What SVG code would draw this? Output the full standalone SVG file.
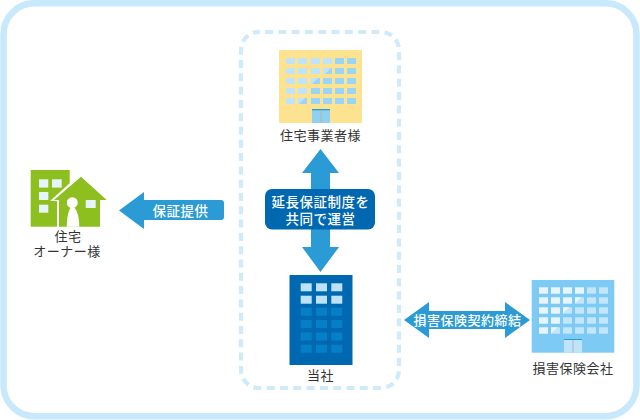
<svg xmlns="http://www.w3.org/2000/svg" width="640" height="420" viewBox="0 0 640 420">
<style>
.t{font-family:"Noto Sans CJK JP","Noto Sans",sans-serif;font-size:13px;fill:#333;text-anchor:middle;letter-spacing:.5px}
.w{font-family:"Noto Sans CJK JP","Noto Sans",sans-serif;font-size:13.500px;fill:#fff;text-anchor:middle;letter-spacing:.5px;font-weight:500}
.arrow{fill:#2a9bd4}
.ya{fill:#9ad5f7}.yb{fill:#bfe3f9}
.ba{fill:#c4e6fa}.bb{fill:#e8f5fd}
.da{fill:#0580c8}.db{fill:#bce3f9}
.ga{fill:#e6f4fc}
</style>
<rect width="640" height="420" fill="#fff"/>
<rect x="3.500" y="3.200" width="633" height="413" rx="31" fill="#fff" stroke="#c8e8fb" stroke-width="6.500"/>
<rect x="241" y="32" width="158" height="356" rx="18" fill="none" stroke="#cfeafa" stroke-width="4.200" stroke-dasharray="8 5.300" stroke-dashoffset="-6"/>
<g id="connectors">
<path class="arrow" d="M119 210.500L144 192V200H221Q224 200 224 203V217Q224 220 221 220H144V229Z"/>
<path class="arrow" d="M320.500 149L339 173H330V190H311V173H302Z"/>
<path class="arrow" d="M320.500 272L339 247H330V228H311V247H302Z"/>
<path class="arrow" d="M404 320L429 302V311H505V302L530 320L505 338V329H429V338Z"/>
</g>
<g id="node-provide"><text class="w" x="180.500" y="215.500">保証提供</text></g>
<g id="node-operate">
<rect x="265" y="189" width="110" height="40.500" rx="7" fill="#0068b0"/>
<text class="w"><tspan x="320.500" y="207">延長保証制度を</tspan><tspan x="320.500" y="223.500">共同で運営</tspan></text>
</g>
<g id="node-contract"><text class="w" x="467.500" y="324.500" style="font-size:13px">損害保険契約締結</text></g>
<g id="node-builder">
<rect x="279" y="50" width="83" height="73" fill="#fde28f"/>
<g class="ya">
<rect x="286" y="58" width="9" height="6" class="yb"/><rect x="298" y="58" width="9" height="6" class="yb"/><rect x="311" y="58" width="9" height="6" class="yb"/><rect x="323" y="58" width="9" height="6" class="yb"/><rect x="335" y="58" width="9" height="6"/><rect x="347" y="58" width="9" height="6"/>
<rect x="286" y="68" width="9" height="6" class="yb"/><rect x="298" y="68" width="9" height="6" class="yb"/><rect x="311" y="68" width="9" height="6" class="yb"/><rect x="323" y="68" width="9" height="6"/><rect x="335" y="68" width="9" height="6"/><rect x="347" y="68" width="9" height="6"/>
<rect x="286" y="78" width="9" height="6" class="yb"/><rect x="298" y="78" width="9" height="6" class="yb"/><rect x="311" y="78" width="9" height="6"/><rect x="323" y="78" width="9" height="6"/><rect x="335" y="78" width="9" height="6"/><rect x="347" y="78" width="9" height="6"/>
<rect x="286" y="88" width="9" height="6" class="yb"/><rect x="298" y="88" width="9" height="6" class="yb"/><rect x="311" y="88" width="9" height="6"/><rect x="323" y="88" width="9" height="6"/><rect x="335" y="88" width="9" height="6"/><rect x="347" y="88" width="9" height="6"/>
<rect x="286" y="98" width="9" height="6" class="yb"/><rect x="298" y="98" width="9" height="6"/><rect x="311" y="98" width="9" height="6"/><rect x="323" y="98" width="9" height="6"/><rect x="335" y="98" width="9" height="6"/><rect x="347" y="98" width="9" height="6"/>
<path class="yb" d="M298 104V98H305L299 104ZM311 84V78H318L312 84ZM323 74V68H331L325 74Z"/>
</g>
<rect x="312" y="109" width="18" height="14" fill="#8fd0f3"/>
<rect x="312" y="109" width="18" height="1.300" fill="#2a9bd4"/>
<rect x="320.500" y="110" width="1" height="13" fill="#a9b9ad"/>
<text class="t" x="320.500" y="140">住宅事業者様</text>
</g>
<g id="node-owner">
<rect x="30.700" y="170" width="39" height="56.700" fill="#8dbf1f"/>
<g class="ga">
<rect x="39" y="179.300" width="9.300" height="8.300"/><rect x="52" y="179.300" width="9.700" height="8.300"/>
<rect x="39" y="192" width="9.300" height="8"/>
<rect x="39" y="204.700" width="9.300" height="8"/>
</g>
<path d="M81 173L50 201H57V229H104V201H111Z" fill="#fff"/>
<path d="M81 176.700L54 200H59V226.700H100V200H106.700Z" fill="#8dbf1f"/>
<rect x="85.700" y="200" width="10" height="8" class="ga"/>
<circle cx="72.300" cy="202.700" r="5.500" fill="#fff"/>
<path d="M72.300 206Q67 210 66.700 226.700H79.300Q79 210 72.300 206Z" fill="#fff"/>
<text class="t"><tspan x="68" y="241">住宅</tspan><tspan x="67" y="255.500">オーナー様</tspan></text>
</g>
<g id="node-company">
<rect x="289.500" y="275" width="63" height="90" fill="#0068b0"/>
<g class="db">
<rect x="300.700" y="283.300" width="11" height="8"/><rect x="316" y="283.300" width="11" height="8"/><rect x="331.300" y="283.300" width="11" height="8"/>
<rect x="300.700" y="295.700" width="11" height="8"/><rect x="316" y="295.700" width="11" height="8"/><rect x="331.300" y="295.700" width="11" height="8"/>
</g>
<g class="da">
<rect x="300.700" y="307.700" width="11" height="8"/><rect x="316" y="307.700" width="11" height="8"/><rect x="331.300" y="307.700" width="11" height="8"/>
<rect x="300.700" y="320" width="11" height="8"/><rect x="316" y="320" width="11" height="8"/><rect x="331.300" y="320" width="11" height="8"/>
<rect x="300.700" y="332.500" width="11" height="8"/><rect x="316" y="332.500" width="11" height="8"/><rect x="331.300" y="332.500" width="11" height="8"/>
<rect x="300.700" y="344.700" width="11" height="8"/><rect x="316" y="344.700" width="11" height="8"/><rect x="331.300" y="344.700" width="11" height="8"/>
</g>
<text class="t" x="320.500" y="379.500">当社</text>
</g>
<g id="node-insurer">
<rect x="531.700" y="280" width="82.600" height="72.700" fill="#7dcbf4"/>
<g class="ba">
<rect x="539" y="287.300" width="9" height="6.400" class="bb"/><rect x="551" y="287.300" width="9" height="6.400" class="bb"/><rect x="563" y="287.300" width="9" height="6.400" class="bb"/><rect x="575" y="287.300" width="9" height="6.400" class="bb"/><rect x="587" y="287.300" width="9" height="6.400"/><rect x="599" y="287.300" width="9" height="6.400"/>
<rect x="539" y="297.300" width="9" height="6.400" class="bb"/><rect x="551" y="297.300" width="9" height="6.400" class="bb"/><rect x="563" y="297.300" width="9" height="6.400" class="bb"/><rect x="575" y="297.300" width="9" height="6.400"/><rect x="587" y="297.300" width="9" height="6.400"/><rect x="599" y="297.300" width="9" height="6.400"/>
<rect x="539" y="307.300" width="9" height="6.400" class="bb"/><rect x="551" y="307.300" width="9" height="6.400" class="bb"/><rect x="563" y="307.300" width="9" height="6.400"/><rect x="575" y="307.300" width="9" height="6.400"/><rect x="587" y="307.300" width="9" height="6.400"/><rect x="599" y="307.300" width="9" height="6.400"/>
<rect x="539" y="317.300" width="9" height="6.400" class="bb"/><rect x="551" y="317.300" width="9" height="6.400" class="bb"/><rect x="563" y="317.300" width="9" height="6.400"/><rect x="575" y="317.300" width="9" height="6.400"/><rect x="587" y="317.300" width="9" height="6.400"/><rect x="599" y="317.300" width="9" height="6.400"/>
<rect x="539" y="327.300" width="9" height="6.400" class="bb"/><rect x="551" y="327.300" width="9" height="6.400"/><rect x="563" y="327.300" width="9" height="6.400"/><rect x="575" y="327.300" width="9" height="6.400"/><rect x="587" y="327.300" width="9" height="6.400"/><rect x="599" y="327.300" width="9" height="6.400"/>
<path class="bb" d="M551 333.700V327.300H557.500L551 333.700ZM563 313.700V307.300H569.500L563 313.700ZM575 303.700V297.300H581.500L575 303.700Z"/>
</g>
<rect x="564" y="339" width="18" height="13.700" fill="#bfe3f9"/>
<rect x="564" y="339" width="18" height="1" fill="#2a9bd4"/>
<rect x="572.500" y="340" width="1" height="12.700" fill="#a9b9c0"/>
<text class="t" x="573" y="372.500">損害保険会社</text>
</g>
</svg>
